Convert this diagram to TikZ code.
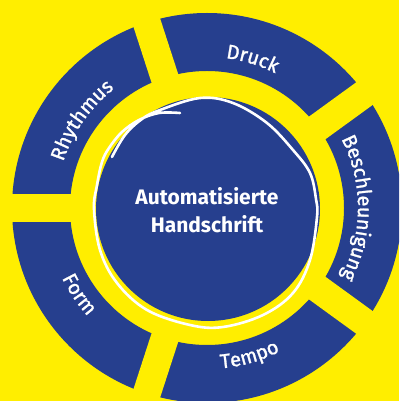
\documentclass[tikz,border=0pt]{standalone}
\usepackage{fontspec}
\setmainfont{Fira Sans}
\newfontfamily\labelfont{Fira Sans}[FakeBold=1.3]
\usetikzlibrary{decorations.text}

\definecolor{ringblue}{RGB}{38,63,142}
\definecolor{bgyellow}{RGB}{255,238,0}

\begin{document}
\begin{tikzpicture}[x=1pt,y=1pt]

\def\rin{137}
\def\rout{195}
\def\gap{28}

% Beschriftung auf dem Ring: aussen = Kopf nach aussen, innen = Kopf zur Mitte
\def\aussen#1#2{
	\path[decorate,decoration={text along path,text align=center,text color=white,
		text={|\labelfont\fontsize{20}{24}\selectfont|#2}}]
		({#1+40}:151) arc[start angle={#1+40},end angle={#1-40},radius=151];
}
\def\innen#1#2{
	\path[decorate,decoration={text along path,text align=center,text color=white,
		text={|\labelfont\fontsize{20}{24}\selectfont|#2}}]
		({#1-40}:161) arc[start angle={#1-40},end angle={#1+40},radius=161];
}

\useasboundingbox (-207,-193) rectangle (192,208);
\fill[bgyellow] (-207,-193) rectangle (192,208);

\begin{scope}
\clip (-207,-193) rectangle (192,208);
\fill[ringblue,even odd rule] (0,0) circle[radius=\rout] (0,0) circle[radius=\rin];
\foreach \a in {180,108,36,-36,-108}
	\draw[bgyellow,line width=\gap] (\a:120) -- (\a:220);
\end{scope}

\fill[ringblue] (1,-1) circle[radius=112];

\draw[white,line width=2.6,line cap=round] plot[smooth,tension=0.6] coordinates {
	(-95,51) (-82,73) (-65,89) (-47,98) (-7,110) (26,105) (60,85) (86,58)
	(103,35) (109,9) (110,-9) (103,-52) (86,-85) (56,-107) (16,-119)
	(-17,-117) (-60,-102) (-90,-75) (-107,-42) (-113,-1) (-110,23)
	(-105,46) (-98,60) (-85,76) (-68,88) (-48,95) (-27,95)};

\node[text=white,font=\bfseries\fontsize{21}{28}\selectfont,align=center] (core) at (0,-2.5)
	{Automatisierte\\Handschrift};

\aussen{145}{Rhythmus}
\aussen{73}{Druck}
\aussen{0}{Beschleunigung}
\innen{-74}{Tempo}
\innen{-146}{Form}

\end{tikzpicture}
\end{document}
